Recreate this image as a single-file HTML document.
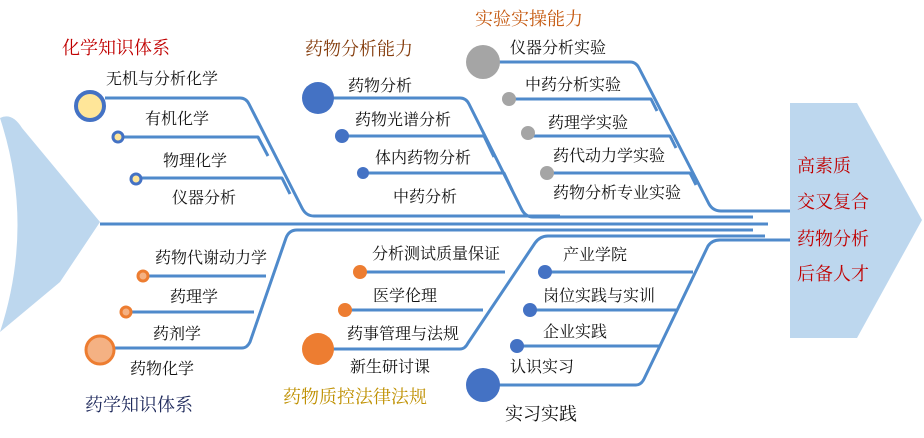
<!DOCTYPE html>
<html><head><meta charset="utf-8"><style>
html,body{margin:0;padding:0;background:#fff;}
svg{display:block}
text{font-family:"Liberation Serif","Noto Serif CJK SC",serif;font-size:16px;fill:#111;}
.t{font-size:18px;}
</style></head><body>
<svg width="924" height="438" viewBox="0 0 924 438" xmlns="http://www.w3.org/2000/svg">
<!-- tail -->
<path d="M0,118 Q12,112 22,128 L100,222 L60,282 L0,332 Q35,225 0,118 Z" fill="#bdd7ee"/>
<!-- head -->
<path d="M790,103 L857,103 L922,220 L857,338 L790,338 Z" fill="#bdd7ee"/>
<g fill="none" stroke="#4f8acb" stroke-width="3" stroke-linejoin="round">
<!-- spine -->
<line x1="100" y1="224" x2="768" y2="224"/>
<!-- group1 -->
<path d="M105,98 L240,98 Q246,98 249,104 L302,208 Q306,216 314,216 L560,216"/>
<path d="M118,137 L258,137 L268,156"/>
<path d="M136,178 L282,178 L290,194"/>
<!-- group2 -->
<path d="M330,98 L460,98 Q466,98 469,104 L521,208 Q525,217 533,217 L753,217"/>
<path d="M342,136 L484,136 L494,157"/>
<path d="M363,173 L504,173 L512,190"/>
<!-- group3 -->
<path d="M495,62 L630,62 Q636,62 639,68 L709,204 Q713,211 721,211 L790,211"/>
<path d="M509,99 L651,99 L657,111"/>
<path d="M528,136 L670,136 L676,148"/>
<path d="M547,173 L690,173 L696,185"/>
<!-- group4 -->
<path d="M100,348 L242,348 Q247,348 250,342 L286,238 Q289,230 297,230 L753,230"/>
<path d="M143,276 L266,276"/>
<path d="M126,312 L254,312"/>
<!-- group5 -->
<path d="M318,349 L460,349 Q465,349 468,343 L535,243 Q540,236 548,236 L765,236"/>
<path d="M358,272 L505,272"/>
<path d="M345,310 L483,310"/>
<!-- group6 -->
<path d="M483,385 L636,385 Q641,385 644,379 L708,246 Q712,240 720,240 L790,240"/>
<path d="M545,272 L693,272"/>
<path d="M530,310 L677,310"/>
<path d="M517,346 L660,346"/>
</g>
<!-- circles -->
<circle cx="90" cy="106" r="14" fill="#ffe699" stroke="#4472c4" stroke-width="4"/>
<circle cx="118" cy="137" r="5" fill="#ffe699" stroke="#4472c4" stroke-width="3"/>
<circle cx="136" cy="179" r="5" fill="#ffe699" stroke="#4472c4" stroke-width="3"/>
<circle cx="318" cy="98" r="16" fill="#4472c4"/>
<circle cx="342" cy="136" r="7" fill="#4472c4"/>
<circle cx="363" cy="173" r="6" fill="#4472c4"/>
<circle cx="483" cy="62" r="17" fill="#a5a5a5"/>
<circle cx="509" cy="99" r="7" fill="#a5a5a5"/>
<circle cx="528" cy="133" r="7" fill="#a5a5a5"/>
<circle cx="547" cy="173" r="7" fill="#a5a5a5"/>
<circle cx="143" cy="276" r="5" fill="#f4b183" stroke="#ed7d31" stroke-width="3"/>
<circle cx="126" cy="312" r="5" fill="#f4b183" stroke="#ed7d31" stroke-width="3"/>
<circle cx="100" cy="350" r="14" fill="#f4b183" stroke="#ed7d31" stroke-width="3"/>
<circle cx="360" cy="272" r="7" fill="#ed7d31"/>
<circle cx="345" cy="310" r="7" fill="#ed7d31"/>
<circle cx="318" cy="349" r="16" fill="#ed7d31"/>
<circle cx="545" cy="272" r="7" fill="#4472c4"/>
<circle cx="530" cy="310" r="7" fill="#4472c4"/>
<circle cx="517" cy="346" r="7" fill="#4472c4"/>
<circle cx="483" cy="385" r="17" fill="#4472c4"/>
<!-- titles -->
<text class="t" x="62" y="54" style="fill:#c00000">化学知识体系</text>
<text class="t" x="305" y="55" style="fill:#843c0c">药物分析能力</text>
<text class="t" x="475" y="25" style="fill:#c55a11">实验实操能力</text>
<text class="t" x="85" y="411" style="fill:#1f2a5c">药学知识体系</text>
<text class="t" x="283" y="403" style="fill:#bf9000">药物质控法律法规</text>
<text class="t" x="505" y="420" style="fill:#111">实习实践</text>
<!-- head text -->
<text class="t" x="797" y="172" style="fill:#c00000">高素质</text>
<text class="t" x="797" y="208" style="fill:#c00000">交叉复合</text>
<text class="t" x="797" y="245" style="fill:#c00000">药物分析</text>
<text class="t" x="797" y="280" style="fill:#c00000">后备人才</text>
<!-- labels -->
<text x="106" y="84">无机与分析化学</text>
<text x="145" y="124">有机化学</text>
<text x="163" y="166">物理化学</text>
<text x="172" y="203">仪器分析</text>
<text x="348" y="91">药物分析</text>
<text x="355" y="125">药物光谱分析</text>
<text x="375" y="163">体内药物分析</text>
<text x="393" y="202">中药分析</text>
<text x="510" y="53">仪器分析实验</text>
<text x="525" y="90">中药分析实验</text>
<text x="548" y="128">药理学实验</text>
<text x="553" y="161">药代动力学实验</text>
<text x="553" y="198">药物分析专业实验</text>
<text x="155" y="263">药物代谢动力学</text>
<text x="170" y="302">药理学</text>
<text x="153" y="339">药剂学</text>
<text x="130" y="374">药物化学</text>
<text x="372" y="259">分析测试质量保证</text>
<text x="373" y="301">医学伦理</text>
<text x="347" y="339">药事管理与法规</text>
<text x="350" y="372">新生研讨课</text>
<text x="563" y="260">产业学院</text>
<text x="543" y="301">岗位实践与实训</text>
<text x="543" y="337">企业实践</text>
<text x="510" y="372">认识实习</text>
</svg>
</body></html>
